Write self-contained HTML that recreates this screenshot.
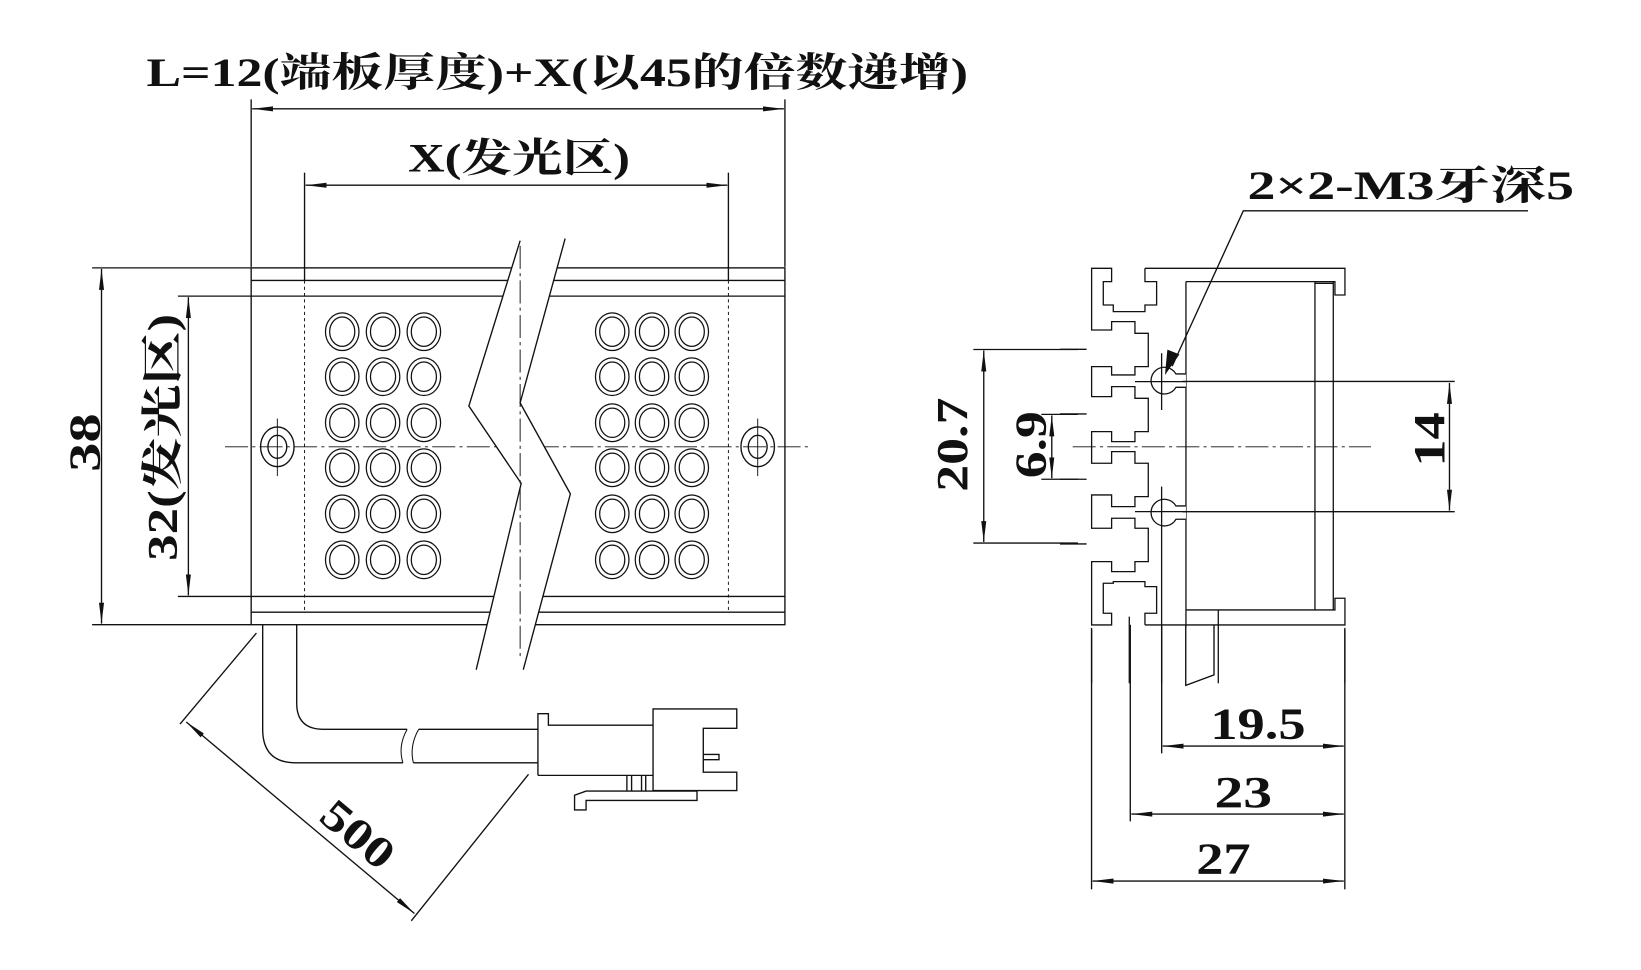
<!DOCTYPE html>
<html><head><meta charset="utf-8"><style>
html,body{margin:0;padding:0;background:#fff;width:1641px;height:970px;overflow:hidden}
svg{display:block}
text{font-family:"Liberation Serif","Noto Serif CJK SC",serif;font-weight:bold;fill:#111}
</style></head><body>
<svg width="1641" height="970" viewBox="0 0 1568 927" preserveAspectRatio="none" xmlns="http://www.w3.org/2000/svg">
<defs>
<marker id="a" viewBox="0 0 20 6" refX="20" refY="3" markerWidth="20" markerHeight="6" markerUnits="userSpaceOnUse" orient="auto-start-reverse"><path d="M20,3 L0,0.6 L0,5.4 Z" fill="#111"/></marker>
<g id="col" stroke="#111" stroke-width="1.2" fill="none">
<ellipse cx="0" cy="317" rx="16" ry="18"/><ellipse cx="0" cy="317" rx="12" ry="14"/>
<ellipse cx="0" cy="360" rx="16" ry="18"/><ellipse cx="0" cy="360" rx="12" ry="14"/>
<ellipse cx="0" cy="404" rx="16" ry="18"/><ellipse cx="0" cy="404" rx="12" ry="14"/>
<ellipse cx="0" cy="447" rx="16" ry="18"/><ellipse cx="0" cy="447" rx="12" ry="14"/>
<ellipse cx="0" cy="491" rx="16" ry="18"/><ellipse cx="0" cy="491" rx="12" ry="14"/>
<ellipse cx="0" cy="535" rx="16" ry="18"/><ellipse cx="0" cy="535" rx="12" ry="14"/>
</g>
</defs>
<g stroke="#111" stroke-width="1.3" fill="none">
<line x1="240" y1="95" x2="240" y2="255"/>
<line x1="750" y1="95" x2="750" y2="255"/>
<line x1="241" y1="104" x2="749" y2="104" marker-start="url(#a)" marker-end="url(#a)"/>
<line x1="291" y1="165" x2="291" y2="268"/>
<line x1="696" y1="165" x2="696" y2="268"/>
<line x1="292" y1="177" x2="695" y2="177" marker-start="url(#a)" marker-end="url(#a)"/>
<rect x="240" y="256" width="510" height="341"/>
<line x1="240" y1="268" x2="750" y2="268"/>
<line x1="240" y1="585" x2="750" y2="585"/>
<line x1="170" y1="283" x2="750" y2="283"/>
<line x1="170" y1="570" x2="750" y2="570"/>
<line x1="88" y1="256" x2="240" y2="256"/>
<line x1="88" y1="597" x2="240" y2="597"/>
<line x1="97" y1="257" x2="97" y2="596" marker-start="url(#a)" marker-end="url(#a)"/>
<line x1="180" y1="284" x2="180" y2="569" marker-start="url(#a)" marker-end="url(#a)"/>
<line x1="291" y1="268" x2="291" y2="585" stroke-dasharray="3,3" stroke-width="0.9"/>
<line x1="696" y1="268" x2="696" y2="585" stroke-dasharray="3,3" stroke-width="0.9"/>
<line x1="215" y1="427" x2="775" y2="427" stroke-dasharray="22,4,3,4" stroke-width="0.9"/>
</g>
<use href="#col" x="327"/><use href="#col" x="366"/><use href="#col" x="405"/>
<use href="#col" x="585"/><use href="#col" x="623"/><use href="#col" x="661"/>
<g stroke="#111" stroke-width="1.3" fill="none">
<ellipse cx="265" cy="427" rx="16" ry="19"/><ellipse cx="265" cy="427" rx="9" ry="11"/>
<line x1="265" y1="400" x2="265" y2="455" stroke-width="0.9"/>
<ellipse cx="724" cy="427" rx="16" ry="19"/><ellipse cx="724" cy="427" rx="9" ry="11"/>
<line x1="724" y1="400" x2="724" y2="455" stroke-width="0.9"/>
<polygon points="497,230 448,388 498,462 455,640 500,640 545,472 497,385 540,228" fill="#fff" stroke="none"/>
<polyline points="497,230 448,388 498,462 455,640"/>
<polyline points="540,228 497,385 545,472 500,640"/>
<line x1="497" y1="235" x2="497" y2="630" stroke-dasharray="22,4,3,4" stroke-width="0.9"/>
<path d="M251,597 V697 Q251,729 283,729 H385 M395,729 H514"/>
<path d="M283.5,597 V672 Q283.5,697 309,697 H389 M400,697 H514"/>
<path d="M389,697 Q380,713 385,729 M400,697 Q391,713 395,729" stroke-width="1"/>
<path d="M514,741 V682 H524 V693 H624"/>
<line x1="514" y1="741" x2="624" y2="741"/>
<path d="M624,677.5 H704 V696 H672 V738 H704 V755.5 H624 Z"/>
<path d="M672,721 H687 V726 H672"/>
<path d="M599,741 V756 M603.5,741 V756 M613,741 V756 M617,741 V756"/>
<path d="M666,756 H560 L549,760 V774 H560 V765 H666 Z"/>
<line x1="245" y1="605" x2="172" y2="692"/>
<line x1="505" y1="740" x2="393" y2="880"/>
<line x1="178" y1="690" x2="396" y2="873" marker-start="url(#a)" marker-end="url(#a)"/>
</g>

<g transform="matrix(0.31850,0,0,0.31850,1012.8,238.9)" stroke="#111" stroke-width="1.3" fill="none">
<path vector-effect="non-scaling-stroke" d="M255,55 H855 V135 H825 V95 H378 M378,1080 H825 V1045 H855 V1125 H255"/>
<path vector-effect="non-scaling-stroke" d="M255,55 V95 H290 V165 H255 V185 H160 V165 H130 V95 H155 V55 H95 V240 H155 V215 H225 V250 H265 V350 H225 V375 H155 V350 H95 V440 H155 V410 H225 V445 H265 V545 H225 V575 H155 V545 H95 V640 H155 V605 H225 V640 H265 V740 H225 V770 H155 V735 H95 V835 H155 V805 H225 V835 H265 V935 H225 V965 H155 V935 H95 V1125 H155 V1090 H130 V1000 H160 V995 H255 V1010 H290 V1090 H255 V1125"/>
<path vector-effect="non-scaling-stroke" d="M378,95 V1130 M765,95 V1080 M820,95 V1080 M765,100 H820 M475,1080 V1300"/>
<path vector-effect="non-scaling-stroke" fill="#fff" d="M378,372 H348 A40,40 0 1 0 348,412 H378"/>
<path vector-effect="non-scaling-stroke" fill="#fff" d="M378,768 H348 A40,40 0 1 0 348,808 H378"/>
<path vector-effect="non-scaling-stroke" d="M305,310 V480 M305,710 V1300 M225,395 H380 M225,785 H380"/>
<path vector-effect="non-scaling-stroke" d="M0,298 H80 M0,492 H80 M0,688 H80 M0,882 H80 M95,1140 V1300 M855,1140 V1300 M208,1100 V1300"/>
</g>

<g stroke="#111" stroke-width="1.3" fill="none">
<line x1="1130" y1="364.5" x2="1390" y2="364.5"/>
<line x1="1130" y1="489" x2="1390" y2="489"/>
<line x1="1385" y1="366" x2="1385" y2="488" marker-start="url(#a)" marker-end="url(#a)"/>
<line x1="1025" y1="427" x2="1310" y2="427" stroke-dasharray="22,4,3,4" stroke-width="0.9"/>
<line x1="930" y1="334" x2="1030" y2="334"/>
<line x1="930" y1="519" x2="1030" y2="519"/>
<line x1="940" y1="335" x2="940" y2="518" marker-start="url(#a)" marker-end="url(#a)"/>
<line x1="995" y1="396" x2="1030" y2="396"/>
<line x1="995" y1="458" x2="1030" y2="458"/>
<line x1="1005" y1="397" x2="1005" y2="457" marker-start="url(#a)" marker-end="url(#a)"/>
<path d="M1133,597 V655 L1160,645 V597"/>
<line x1="1110" y1="597" x2="1110" y2="720"/>
<line x1="1080" y1="597" x2="1080" y2="785"/>
<line x1="1285" y1="600" x2="1285" y2="850"/>
<line x1="1043" y1="600" x2="1043" y2="850"/>
<line x1="1111" y1="713" x2="1284" y2="713" marker-start="url(#a)" marker-end="url(#a)"/>
<line x1="1081" y1="778" x2="1284" y2="778" marker-start="url(#a)" marker-end="url(#a)"/>
<line x1="1044" y1="842" x2="1284" y2="842" marker-start="url(#a)" marker-end="url(#a)"/>
<polyline points="1460,201.5 1188,201.5 1120,350"/>
<path d="M1114,356 L1116,335 L1126,339 Z" fill="#111"/>
</g>

<text x="140" y="82" font-size="38" textLength="785" lengthAdjust="spacingAndGlyphs">L=12(端板厚度)+X(以45的倍数递增)</text>
<text x="390" y="164" font-size="38" textLength="212" lengthAdjust="spacingAndGlyphs">X(发光区)</text>
<text x="1192" y="190" font-size="38" textLength="312" lengthAdjust="spacingAndGlyphs">2×2-M3牙深5</text>
<text transform="translate(95,423) rotate(-90)" font-size="42" text-anchor="middle" textLength="56" lengthAdjust="spacingAndGlyphs">38</text>
<text transform="translate(169,418) rotate(-90)" font-size="40" text-anchor="middle" textLength="236" lengthAdjust="spacingAndGlyphs">32(发光区)</text>
<text transform="translate(924,425) rotate(-90)" font-size="42" text-anchor="middle" textLength="90" lengthAdjust="spacingAndGlyphs">20.7</text>
<text transform="translate(999,425) rotate(-90)" font-size="42" text-anchor="middle" textLength="64" lengthAdjust="spacingAndGlyphs">6.9</text>
<text transform="translate(1380,420) rotate(-90)" font-size="42" text-anchor="middle" textLength="52" lengthAdjust="spacingAndGlyphs">14</text>
<text x="1202" y="706" font-size="42" text-anchor="middle" textLength="91" lengthAdjust="spacingAndGlyphs">19.5</text>
<text x="1188" y="771" font-size="42" text-anchor="middle" textLength="55" lengthAdjust="spacingAndGlyphs">23</text>
<text x="1169" y="835" font-size="42" text-anchor="middle" textLength="52" lengthAdjust="spacingAndGlyphs">27</text>
<text transform="translate(333,808) rotate(40)" font-size="42" text-anchor="middle" textLength="78" lengthAdjust="spacingAndGlyphs">500</text>
</svg>
</body></html>
